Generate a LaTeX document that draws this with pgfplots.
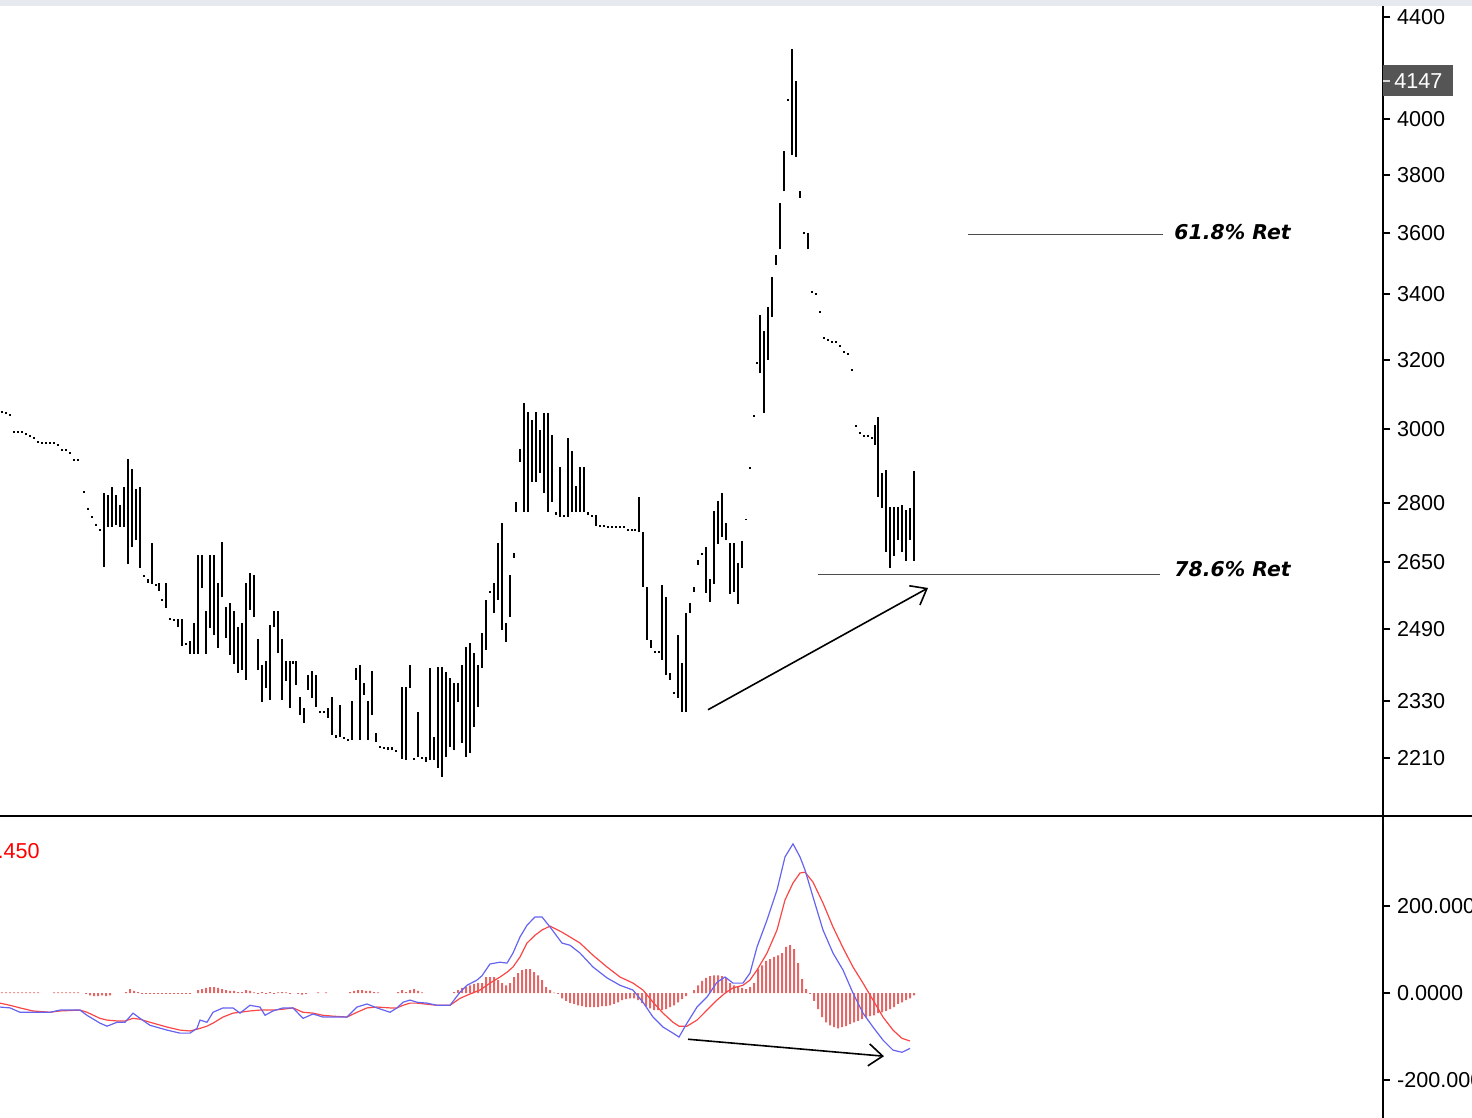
\documentclass[border=0pt]{standalone}
\usepackage{pgfplots}
\pgfplotsset{compat=1.18}
\usepackage{fontspec}
\setmainfont{Liberation Sans}
\newfontfamily\dejavu{DejaVu Sans}
\usetikzlibrary{arrows.meta}
\definecolor{macdblue}{RGB}{100,100,240}
\definecolor{macdred}{RGB}{250,70,70}
\definecolor{histred}{RGB}{225,85,85}
\definecolor{pricebox}{RGB}{85,85,85}
\definecolor{topband}{RGB}{230,234,238}
\newcommand{\tickfont}{\fontsize{10.8pt}{13pt}\selectfont}
\begin{document}
\begin{tikzpicture}
\begin{axis}[
  at={(0pt,0pt)}, anchor=north west,
  scale only axis, width=691.5pt, height=408pt,
  xmin=0, xmax=1383,
  ymode=log, ymin=2094, ymax=4470,
  axis x line=none,
  axis y line*=right,
  axis line style={line width=1pt},
  xtick=\empty,
  ytick={2210,2330,2490,2650,2800,3000,3200,3400,3600,3800,4000,4400},
  yticklabels={2210,2330,2490,2650,2800,3000,3200,3400,3600,3800,4000,4400},
  tick align=outside,
  major tick length=3.5pt,
  minor tick num=0,
  minor tick style={draw=none},
  tick style={line width=1pt, black},
  yticklabel style={font=\tickfont, anchor=west},
  unbounded coords=jump,
]
\addplot[black, line width=1pt, line cap=butt] coordinates {
(2,3045)(2,3051)(2,nan)
(6,3042)(6,3048)(6,nan)
(10,3037)(10,3042)(10,nan)
(14,2989)(14,2994)(14,nan)
(18,2989)(18,2994)(18,nan)
(22,2989)(22,2994)(22,nan)
(26,2983)(26,2989)(26,nan)
(30,2978)(30,2983)(30,nan)
(34,2972)(34,2978)(34,nan)
(38,2962)(38,2967)(38,nan)
(42,2959)(42,2964)(42,nan)
(46,2959)(46,2964)(46,nan)
(50,2959)(50,2964)(50,nan)
(54,2959)(54,2964)(54,nan)
(58,2953)(58,2959)(58,nan)
(62,2939)(62,2945)(62,nan)
(66,2939)(66,2945)(66,nan)
(70,2931)(70,2937)(70,nan)
(74,2912)(74,2918)(74,nan)
(78,2912)(78,2918)(78,nan)
(84,2827)(84,2832)(84,nan)
(88,2783)(88,2788)(88,nan)
(92,2762)(92,2768)(92,nan)
(96,2742)(96,2747)(96,nan)
(100,2729)(100,2734)(100,nan)
(104,2639)(104,2827)(104,nan)
(108,2739)(108,2822)(108,nan)
(112,2739)(112,2843)(112,nan)
(116,2744)(116,2822)(116,nan)
(120,2739)(120,2796)(120,nan)
(124,2739)(124,2843)(124,nan)
(128,2646)(128,2918)(128,nan)
(132,2688)(132,2891)(132,nan)
(136,2706)(136,2838)(136,nan)
(140,2637)(140,2843)(140,nan)
(144,2615)(144,2619)(144,nan)
(148,2600)(148,2610)(148,nan)
(152,2597)(152,2698)(152,nan)
(156,2593)(156,2597)(156,nan)
(159,2581)(159,2600)(159,nan)
(162,2557)(162,2561)(162,nan)
(166,2541)(166,2600)(166,nan)
(170,2512)(170,2517)(170,nan)
(174,2510)(174,2515)(174,nan)
(178,2496)(178,2515)(178,nan)
(182,2452)(182,2515)(182,nan)
(186,2454)(186,2459)(186,nan)
(190,2434)(190,2464)(190,nan)
(194,2434)(194,2505)(194,nan)
(198,2434)(198,2669)(198,nan)
(202,2588)(202,2669)(202,nan)
(206,2434)(206,2534)(206,nan)
(210,2494)(210,2669)(210,nan)
(214,2477)(214,2669)(214,nan)
(218,2448)(218,2600)(218,nan)
(222,2566)(222,2701)(222,nan)
(226,2471)(226,2543)(226,nan)
(230,2432)(230,2552)(230,nan)
(234,2412)(234,2534)(234,nan)
(238,2391)(238,2496)(238,nan)
(242,2398)(242,2505)(242,nan)
(246,2376)(246,2600)(246,nan)
(250,2536)(250,2624)(250,nan)
(254,2519)(254,2619)(254,nan)
(258,2398)(258,2468)(258,nan)
(262,2328)(262,2410)(262,nan)
(266,2358)(266,2419)(266,nan)
(270,2332)(270,2501)(270,nan)
(274,2496)(274,2534)(274,nan)
(278,2436)(278,2534)(278,nan)
(282,2332)(282,2468)(282,nan)
(286,2374)(286,2419)(286,nan)
(290,2315)(290,2417)(290,nan)
(293,2412)(293,2417)(293,nan)
(296,2365)(296,2419)(296,nan)
(300,2300)(300,2339)(300,nan)
(304,2283)(304,2315)(304,nan)
(308,2354)(308,2387)(308,nan)
(312,2337)(312,2396)(312,nan)
(316,2317)(316,2387)(316,nan)
(320,2304)(320,2309)(320,nan)
(324,2304)(324,2309)(324,nan)
(328,2294)(328,2315)(328,nan)
(332,2258)(332,2339)(332,nan)
(336,2251)(336,2258)(336,nan)
(340,2253)(340,2322)(340,nan)
(344,2249)(344,2253)(344,nan)
(348,2245)(348,2249)(348,nan)
(352,2247)(352,2330)(352,nan)
(356,2376)(356,2403)(356,nan)
(360,2247)(360,2410)(360,nan)
(364,2343)(364,2369)(364,nan)
(368,2247)(368,2330)(368,nan)
(372,2300)(372,2396)(372,nan)
(376,2243)(376,2262)(376,nan)
(380,2230)(380,2234)(380,nan)
(384,2228)(384,2232)(384,nan)
(388,2226)(388,2232)(388,nan)
(392,2226)(392,2232)(392,nan)
(396,2222)(396,2226)(396,nan)
(402,2208)(402,2361)(402,nan)
(406,2206)(406,2361)(406,nan)
(410,2358)(410,2410)(410,nan)
(414,2206)(414,2210)(414,nan)
(418,2212)(418,2307)(418,nan)
(422,2208)(422,2212)(422,nan)
(426,2202)(426,2212)(426,nan)
(430,2206)(430,2403)(430,nan)
(434,2206)(434,2253)(434,nan)
(438,2189)(438,2405)(438,nan)
(442,2171)(442,2405)(442,nan)
(446,2212)(446,2394)(446,nan)
(450,2232)(450,2381)(450,nan)
(454,2226)(454,2369)(454,nan)
(458,2328)(458,2369)(458,nan)
(462,2241)(462,2410)(462,nan)
(466,2212)(466,2450)(466,nan)
(470,2220)(470,2459)(470,nan)
(474,2274)(474,2436)(474,nan)
(478,2317)(478,2410)(478,nan)
(482,2403)(482,2482)(482,nan)
(486,2443)(486,2559)(486,nan)
(490,2576)(490,2581)(490,nan)
(494,2529)(494,2600)(494,nan)
(498,2559)(498,2698)(498,nan)
(502,2489)(502,2749)(502,nan)
(506,2461)(506,2505)(506,nan)
(510,2519)(510,2619)(510,nan)
(514,2661)(514,2673)(514,nan)
(516,2778)(516,2804)(516,nan)
(520,2910)(520,2945)(520,nan)
(524,2778)(524,3073)(524,nan)
(528,2778)(528,3048)(528,nan)
(532,2856)(532,3025)(532,nan)
(536,2856)(536,3048)(536,nan)
(540,2880)(540,2997)(540,nan)
(544,2827)(544,3045)(544,nan)
(548,2778)(548,3045)(548,nan)
(552,2804)(552,2983)(552,nan)
(556,2770)(556,2778)(556,nan)
(560,2765)(560,2896)(560,nan)
(564,2765)(564,2770)(564,nan)
(568,2765)(568,2975)(568,nan)
(572,2778)(572,2939)(572,nan)
(576,2778)(576,2846)(576,nan)
(580,2778)(580,2896)(580,nan)
(584,2778)(584,2896)(584,nan)
(588,2770)(588,2778)(588,nan)
(592,2765)(592,2770)(592,nan)
(596,2742)(596,2770)(596,nan)
(600,2739)(600,2744)(600,nan)
(604,2739)(604,2744)(604,nan)
(608,2737)(608,2742)(608,nan)
(612,2737)(612,2742)(612,nan)
(616,2737)(616,2742)(616,nan)
(620,2737)(620,2742)(620,nan)
(624,2737)(624,2742)(624,nan)
(628,2729)(628,2734)(628,nan)
(632,2729)(632,2734)(632,nan)
(635,2729)(635,2734)(635,nan)
(639,2726)(639,2817)(639,nan)
(643,2590)(643,2726)(643,nan)
(647,2466)(647,2590)(647,nan)
(651,2448)(651,2466)(651,nan)
(655,2436)(655,2441)(655,nan)
(659,2436)(659,2441)(659,nan)
(662,2421)(662,2595)(662,nan)
(666,2387)(666,2566)(666,nan)
(670,2376)(670,2391)(670,nan)
(674,2345)(674,2350)(674,nan)
(678,2337)(678,2477)(678,nan)
(682,2307)(682,2414)(682,nan)
(686,2307)(686,2529)(686,nan)
(690,2529)(690,2552)(690,nan)
(694,2578)(694,2590)(694,nan)
(698,2644)(698,2656)(698,nan)
(702,2669)(702,2673)(702,nan)
(706,2576)(706,2688)(706,nan)
(710,2554)(710,2610)(710,nan)
(714,2597)(714,2780)(714,nan)
(718,2696)(718,2806)(718,nan)
(722,2714)(722,2827)(722,nan)
(726,2706)(726,2749)(726,nan)
(730,2573)(730,2698)(730,nan)
(734,2578)(734,2698)(734,nan)
(738,2550)(738,2649)(738,nan)
(742,2637)(742,2704)(742,nan)
(746,2757)(746,2760)(746,nan)
(750,2891)(750,2896)(750,nan)
(754,3034)(754,3039)(754,nan)
(757,3187)(757,3193)(757,nan)
(760,3160)(760,3336)(760,nan)
(764,3045)(764,3286)(764,nan)
(768,3199)(768,3360)(768,nan)
(772,3329)(772,3456)(772,nan)
(776,3495)(776,3527)(776,nan)
(780,3546)(780,3702)(780,nan)
(784,3743)(784,3885)(784,nan)
(788,4069)(788,4077)(788,nan)
(792,3870)(792,4271)(792,nan)
(796,3863)(796,4146)(796,nan)
(800,3719)(800,3743)(800,nan)
(804,3596)(804,3603)(804,nan)
(808,3546)(808,3600)(808,nan)
(812,3404)(812,3411)(812,nan)
(816,3398)(816,3404)(816,nan)
(820,3342)(820,3348)(820,nan)
(824,3262)(824,3268)(824,nan)
(828,3256)(828,3262)(828,nan)
(832,3250)(832,3256)(832,nan)
(836,3250)(836,3256)(836,nan)
(840,3238)(840,3244)(840,nan)
(844,3220)(844,3226)(844,nan)
(848,3214)(848,3220)(848,nan)
(852,3166)(852,3172)(852,nan)
(856,3005)(856,3010)(856,nan)
(860,2986)(860,2991)(860,nan)
(864,2978)(864,2983)(864,nan)
(868,2978)(868,2983)(868,nan)
(872,2972)(872,2978)(872,nan)
(875,2956)(875,3010)(875,nan)
(878,2817)(878,3034)(878,nan)
(882,2788)(882,2880)(882,nan)
(886,2676)(886,2888)(886,nan)
(890,2637)(890,2791)(890,nan)
(894,2666)(894,2791)(894,nan)
(898,2706)(898,2791)(898,nan)
(902,2676)(902,2796)(902,nan)
(906,2654)(906,2783)(906,nan)
(910,2706)(910,2788)(910,nan)
(914,2654)(914,2885)(914,nan)
};
% retracement levels
\addplot[black!70, line width=0.5pt] coordinates {(968,3593) (1163,3593)};
\addplot[black!70, line width=0.5pt] coordinates {(818,2620) (1160,2620)};
\draw[black, line width=0.8pt, -{Straight Barb[length=7pt, width=11pt, line width=0.8pt]}]
  (axis cs:708,2311) -- (axis cs:928,2588);
\end{axis}

\begin{axis}[
  at={(0pt,-408pt)}, anchor=north west,
  scale only axis, width=691.5pt, height=151pt,
  xmin=0, xmax=1383, ymin=-287, ymax=407,
  axis x line=none,
  axis y line*=right,
  axis line style={line width=1pt},
  xtick=\empty,
  ytick={-200,0,200},
  yticklabels={-200.0000,0.0000,200.0000},
  tick align=outside,
  major tick length=3.5pt,
  minor tick num=0,
  tick style={line width=1pt, black},
  yticklabel style={font=\tickfont, anchor=west},
]
\addplot[ybar, bar width=1pt, fill=histred, draw=none, fill opacity=0.9] coordinates {
(2,1.5)(6,1.5)(10,1.5)(14,1.5)(18,1.5)(22,1.5)(26,1.5)(30,1.5)(34,1.5)(38,1.5)
(54,1.5)(58,1.5)(62,1.5)(66,1.5)(70,1.5)(74,1.5)(78,1.5)
(86,-2)(90,-5)(94,-7)(98,-7)(102,-5)(106,-7)(110,-5)
(126,2)(130,9)(134,5)(138,2)
(142,-1.5)(146,-2)(150,-2)(154,-2)(158,-2)(162,-2)(166,-2)(170,-2)(174,-2)(178,-2)(182,-2)(186,-1.5)(190,-1.5)
(198,7)(202,9)(206,12)(210,14)(214,14)(218,12)(222,9)(226,7)(230,5)(234,5)(238,2)
(242,2)(246,7)(250,5)(254,1.5)(258,-1.5)(262,2)
(266,-2)(270,2)(274,-1.5)(278,1.5)(282,2)(286,1.5)(290,-1.5)
(298,-2)(302,-3.5)(306,-2)(318,1.5)(326,1.5)
(350,2)(354,5)(358,7)(362,7)(366,5)(370,5)(374,2)(378,1.5)
(398,2)(402,7)(406,2)(410,7)(414,9)(418,5)(422,1.5)
(454,2)(458,7)(462,12)(466,14)(470,18)(474,21)(478,23)
(482,23)(486,37)(490,37)(494,37)(498,30)(502,23)(506,18)(510,23)(514,37)(518,46)(522,53)(526,55)(530,55)(534,48)(538,41)(542,30)(546,14)(550,7)(554,1.2)(558,-2)
(562,-12)(566,-18)(570,-23)(574,-25)(578,-28)(582,-30)(586,-32)(590,-32)(594,-32)(598,-32)(602,-30)(606,-30)(610,-28)(614,-25)(618,-21)(622,-16)(626,-14)(630,-12)(634,-12)(638,-16)(642,-23)(646,-30)(650,-35)(654,-39)(658,-39)(662,-39)(666,-37)(670,-32)(674,-28)(678,-21)(682,-14)(686,-7)
(694,7)(698,18)(702,28)(706,35)(710,39)(714,41)(718,41)(722,39)(726,35)(730,23)(734,18)(738,14)(742,12)(746,9)(750,14)
(754,23)(758,55)(762,64)(766,74)(770,78)(774,83)(778,87)(782,92)(786,106)(790,110)(794,101)(798,69)(802,32)(806,9)(810,-2)
(814,-18)(818,-37)(822,-55)(826,-67)(830,-74)(834,-78)(838,-81)(842,-78)(846,-76)(850,-71)(854,-67)(858,-64)(862,-60)(866,-55)(870,-53)(874,-51)(878,-46)(882,-44)(886,-41)(890,-37)(894,-32)(898,-25)(902,-21)(906,-16)(910,-12)(914,-5)
};
\addplot[macdred, line width=0.6pt] coordinates {
(0,-23)(10,-28)(20,-34)(33,-41)(50,-44)(60,-41)(80,-39)(87,-44)(100,-58)(107,-62)(117,-64)(125,-64)(133,-58)(140,-60)(150,-67)(167,-78)(180,-85)(190,-87)(197,-83)(200,-81)(207,-76)(213,-69)(223,-55)(233,-46)(240,-44)(250,-41)(260,-39)(273,-39)(283,-37)(293,-34)(303,-44)(313,-46)(323,-51)(333,-53)(347,-55)(357,-44)(367,-34)(377,-32)(390,-34)(397,-34)(403,-28)(410,-23)(417,-23)(437,-28)(450,-28)(460,-12)(470,-2)(480,7)(490,23)(500,37)(507,48)(513,60)(520,83)(527,115)(535,133)(542,145)(550,154)(562,140)(570,129)(580,115)(593,87)(607,60)(620,37)(633,23)(643,7)(653,-21)(663,-46)(673,-67)(679,-76)(687,-76)(697,-62)(707,-39)(717,-16)(725,0)(733,12)(743,18)(750,30)(757,53)(767,92)(777,145)(785,214)(793,253)(800,276)(805,278)(813,255)(823,207)(833,152)(843,104)(853,60)(863,23)(873,-16)(883,-55)(893,-85)(902,-104)(910,-110)
};
\addplot[macdblue, line width=0.6pt] coordinates {
(0,-32)(10,-34)(20,-44)(33,-44)(50,-44)(60,-39)(70,-39)(80,-39)(87,-51)(100,-69)(107,-76)(117,-67)(125,-67)(133,-46)(140,-58)(150,-74)(167,-85)(180,-92)(190,-92)(197,-81)(200,-62)(207,-67)(213,-44)(223,-34)(233,-34)(240,-46)(250,-28)(260,-32)(265,-51)(273,-41)(283,-34)(293,-34)(303,-58)(313,-48)(323,-55)(333,-55)(347,-55)(357,-32)(367,-25)(377,-34)(390,-44)(397,-34)(403,-21)(410,-16)(417,-21)(427,-23)(437,-28)(450,-28)(460,2)(467,18)(477,30)(482,40)(490,67)(500,71)(507,69)(513,92)(520,129)(527,156)(535,175)(542,175)(550,152)(562,115)(570,110)(580,92)(593,60)(607,35)(620,18)(633,7)(643,-21)(653,-55)(663,-78)(673,-92)(679,-101)(687,-69)(697,-32)(707,-9)(717,25)(725,37)(733,23)(743,23)(750,46)(757,106)(767,168)(777,237)(785,313)(793,343)(800,313)(805,283)(813,221)(823,145)(833,92)(843,53)(853,0)(863,-46)(873,-78)(883,-108)(893,-131)(902,-136)(910,-127)
};
\draw[black, line width=0.8pt, -{Straight Barb[length=7pt, width=11pt, line width=0.8pt]}]
  (axis cs:688,-106) -- (axis cs:884,-145);
\end{axis}

% decorations in picture coordinates (1 px = 0.5 pt)
\draw[line width=1pt] (0pt,-408pt) -- (736pt,-408pt);
\fill[topband] (0pt,0pt) rectangle (736pt,-3pt);
\node[fill=pricebox, text=white, font=\tickfont, anchor=west, minimum width=35pt,
      minimum height=15.5pt, inner sep=0pt] at (691.5pt,-40.5pt) {4147};
\draw[white!70!gray, line width=1pt] (691.5pt,-40.5pt) -- (695pt,-40.5pt);
\node[anchor=west, inner sep=0pt, font=\dejavu\bfseries\itshape\fontsize{10.2pt}{12pt}\selectfont]
  at (587pt,-116pt) {61.8\% Ret};
\node[anchor=west, inner sep=0pt, font=\dejavu\bfseries\itshape\fontsize{10.2pt}{12pt}\selectfont]
  at (587pt,-284.5pt) {78.6\% Ret};
\node[anchor=base east, inner sep=0pt, text=red, font=\tickfont] at (20pt,-429pt) {1.450};
\pgfresetboundingbox
\path[use as bounding box] (0pt,0pt) rectangle (736pt,-559pt);
\end{tikzpicture}
\end{document}
